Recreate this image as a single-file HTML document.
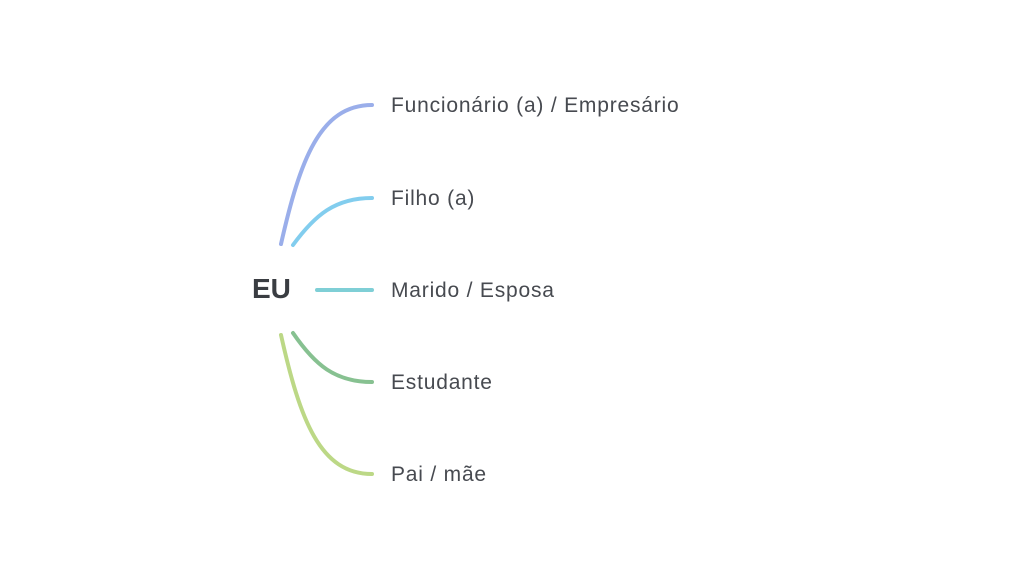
<!DOCTYPE html>
<html><head><style>
body{margin:0;width:1024px;height:570px;background:#fff;position:relative;font-family:"Liberation Sans",sans-serif;overflow:hidden}
.t{position:absolute;left:391px;font-size:21px;letter-spacing:0.8px;color:#474a50;line-height:24px}
</style></head><body>
<svg width="1024" height="570" style="position:absolute;left:0;top:0" fill="none" stroke-width="4" stroke-linecap="round">
<path d="M281 244 C300 160 320 105 372 105" stroke="#9aaeea"/>
<path d="M293 245 C315 215 335 198 372 198" stroke="#82cdee"/>
<path d="M317 290 L372 290" stroke="#7fcfd6"/>
<path d="M293 333 C315 365 335 382 372 382" stroke="#87c191"/>
<path d="M281 335 C300 420 320 474 372 474" stroke="#bcd886"/>
</svg>
<div style="position:absolute;left:252px;top:273px;font-size:28px;font-weight:bold;color:#3a3d42">EU</div>
<div class="t" style="top:94px">Funcionário (a) / Empresário</div>
<div class="t" style="top:187px">Filho (a)</div>
<div class="t" style="top:279px">Marido / Esposa</div>
<div class="t" style="top:371px">Estudante</div>
<div class="t" style="top:463px">Pai / mãe</div>
</body></html>
